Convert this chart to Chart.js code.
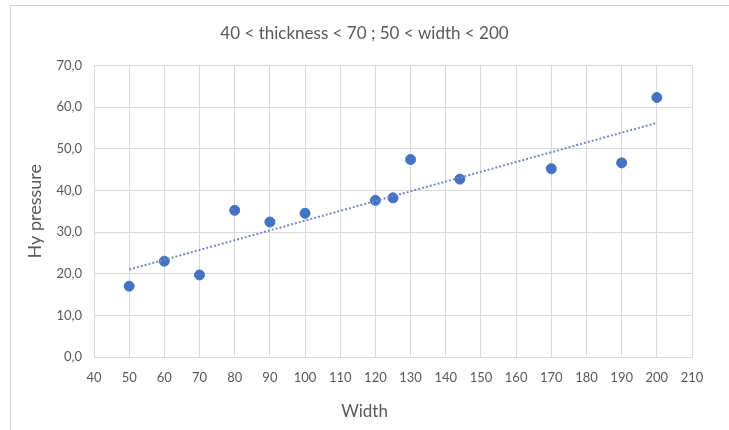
<!DOCTYPE html>
<html>
<head>
<meta charset="utf-8">
<script src="https://cdn.jsdelivr.net/npm/chart.js@4"></script>
<style>
  body { margin: 0; background: #fff; }
  .frame { position: absolute; left: 10px; top: 5px; width: 740px; height: 450px; border-left: 1px solid #d4d4d4; border-top: 1px solid #d4d4d4; }
  .wrap { position: absolute; left: 0; top: 0; width: 729px; height: 430px; }
</style>
</head>
<body>
<div class="frame"></div>
<div class="wrap"><canvas id="graph" width="729" height="430"></canvas></div>
<script>
// measured points
const widths = [50, 60, 70, 80, 90, 100, 120, 125, 130, 144, 170, 190, 200];
const pressures = [17.0, 23.0, 19.7, 35.2, 32.4, 34.5, 37.6, 38.2, 47.4, 42.7, 45.2, 46.6, 62.3];

// linear trendline ends
const trendX = [50, 200];
const trendY = [21.0, 56.2];

const xTicks = [40, 50, 60, 70, 80, 90, 100, 110, 120, 130, 140, 150, 160, 170, 180, 190, 200, 210];
const yTicks = [0, 10, 20, 30, 40, 50, 60, 70];

const titleText = "40 < thickness < 70 ; 50 < width < 200";
const gray = "#595959";
const gridColor = "#d9d9d9";
const blue = "#4472C4";
const fontFamily = "Lato, 'Open Sans', sans-serif";

const points = widths.map((w, i) => ({ x: w, y: pressures[i] }));
const trend = trendX.map((w, i) => ({ x: w, y: trendY[i] }));

const ctx = document.getElementById("graph").getContext("2d");
new Chart(ctx, {
  type: "scatter",
  data: {
    datasets: [
      {
        label: "trend",
        data: trend,
        showLine: true,
        borderColor: "#6f8cc4",
        borderWidth: 2,
        borderDash: [2, 2],
        pointRadius: 0,
        fill: false,
      },
      {
        label: "Hy pressure",
        data: points,
        backgroundColor: blue,
        borderColor: blue,
        pointRadius: 5,
      },
    ],
  },
  options: {
    responsive: false,
    animation: false,
    layout: { padding: { left: 10, right: 10, top: 0, bottom: 0 } },
    scales: {
      x: {
        type: "linear",
        min: 40,
        max: 210,
        afterBuildTicks: (scale) => { scale.ticks = xTicks.map((v) => ({ value: v })); },
        afterFit: (scale) => { scale.height = 44.6; },
        grid: { color: gridColor, drawTicks: false },
        border: { color: gridColor },
        ticks: { padding: 13, color: gray, font: { family: fontFamily, size: 13 } },
      },
      y: {
        min: 0,
        max: 70,
        afterBuildTicks: (scale) => { scale.ticks = yTicks.map((v) => ({ value: v })); },
        afterFit: (scale) => { scale.width = 84; },
        grid: { color: gridColor, drawTicks: false },
        border: { color: gridColor },
        ticks: {
          padding: 12,
          color: gray,
          font: { family: fontFamily, size: 13 },
          callback: (v) => v.toFixed(1).replace(".", ","),
        },
        title: {
          display: true,
          text: "Hy pressure",
          color: gray,
          font: { family: fontFamily, size: 18 },
          padding: { top: 14, bottom: 0 },
        },
      },
      yRight: {
        position: "right",
        display: true,
        grid: { display: false },
        border: { display: false },
        ticks: { display: false },
        afterFit: (scale) => { scale.width = 27; },
      },
    },
    plugins: {
      legend: { display: false },
      tooltip: { enabled: false },
      title: {
        display: true,
        text: titleText,
        color: gray,
        font: { family: fontFamily, size: 17, weight: "normal" },
        padding: { top: 23, bottom: 22 },
      },
      subtitle: {
        display: true,
        position: "bottom",
        text: "Width",
        color: gray,
        font: { family: fontFamily, size: 17, weight: "normal" },
        padding: { top: 0, bottom: 8 },
      },
    },
  },
});
</script>
</body>
</html>
